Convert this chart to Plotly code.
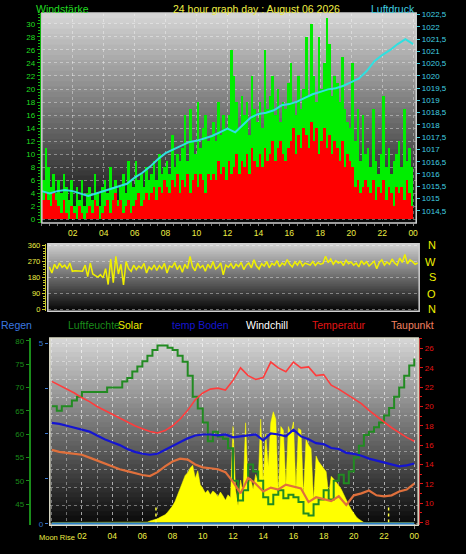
import numpy as np
import plotly.graph_objects as go

# ---------------- data ----------------
# wind (10 minute values), 00:00 .. 23:50
wind_gust = [
    6, 11, 8, 5, 7, 4,      # 00
    6, 4, 7, 5, 3, 6,       # 01
    2, 5, 3, 6, 2, 4,       # 02
    5, 3, 7, 4, 2, 5,       # 03
    6, 4, 8, 5, 6, 3,       # 04
    5, 7, 4, 9, 6, 5,       # 05
    9, 6, 7, 5, 8, 6,       # 06
    7, 9, 6, 10, 7, 8,      # 07
    9, 7, 13, 8, 10, 9,     # 08
    11, 16, 9, 17, 12, 10,  # 09
    18, 11, 14, 16, 12, 13, # 10
    15, 12, 18, 13, 16, 14, # 11
    16, 26, 22, 18, 14, 19, # 12
    16, 18, 13, 22, 17, 15, # 13
    18, 14, 26, 17, 19, 22, # 14
    16, 20, 15, 18, 17, 21, # 15
    24, 18, 16, 22, 17, 20, # 16
    28, 19, 30, 22, 18, 28, # 17
    20, 24, 31, 27, 19, 22, # 18
    21, 18, 25, 17, 15, 14, # 19
    24, 12, 17, 9, 16, 10,  # 20
    11, 8, 17, 9, 7, 10,    # 21
    19, 8, 11, 7, 9, 10,    # 22
    12, 8, 17, 9, 11, 8,    # 23
]
wind_speed = [
    3, 4, 3, 2, 4, 3,
    2, 1, 3, 1, 0, 2,
    1, 0, 2, 1, 0, 1,
    2, 1, 3, 2, 0, 1,
    2, 3, 1, 3, 4, 2,
    3, 1, 2, 3, 1, 2,
    3, 4, 2, 3, 4, 3,
    4, 5, 3, 5, 4, 6,
    5, 4, 6, 5, 7, 4,
    6, 5, 7, 4, 6, 7,
    5, 7, 6, 4, 7, 6,
    7, 6, 9, 7, 8, 6,
    9, 7, 8, 10, 7, 9,
    8, 10, 7, 11, 9, 8,
    10, 8, 11, 9, 10, 12,
    9, 11, 12, 10, 9, 11,
    12, 14, 10, 13, 11, 14,
    13, 11, 15, 12, 14, 10,
    12, 14, 11, 13, 10, 12,
    11, 9, 12, 8, 10, 9,
    8, 5, 6, 4, 5, 6,
    5, 4, 6, 3, 5, 4,
    6, 3, 5, 4, 2, 5,
    4, 5, 3, 6, 4, 2,
]
# pressure every 30 min, 00:00 .. 24:00
pressure = [
    1015.3, 1015.2, 1015.3, 1015.35, 1015.3, 1015.2, 1015.1, 1015.2, 1015.3, 1015.4,
    1015.5, 1015.6, 1015.85, 1016.05, 1016.3, 1016.6, 1016.85, 1017.0, 1017.15, 1017.3,
    1017.35, 1017.45, 1017.55, 1017.7, 1017.85, 1017.7, 1018.0, 1018.3, 1018.45, 1018.5,
    1018.6, 1018.8, 1018.85, 1018.95, 1019.1, 1019.25, 1019.35, 1019.45, 1019.5, 1019.6,
    1019.75, 1019.9, 1020.2, 1020.6, 1020.85, 1021.05, 1021.3, 1021.5, 1021.3,
]
# wind direction (degrees), 10 minute values 00:00 .. 24:00
wind_dir = [
    240, 205, 255, 230, 262, 238,
    250, 228, 262, 215, 218, 217,
    217, 216, 250, 185, 262, 200,
    190, 182, 196, 178, 230, 140,
    285, 150, 300, 200, 255, 138,
    270, 230, 215, 250, 225, 245,
    232, 260, 205, 240, 225, 252,
    220, 248, 230, 260, 205, 245,
    238, 265, 225, 250, 210, 255,
    230, 300, 240, 218, 262, 235,
    248, 215, 255, 232, 270, 228,
    240, 262, 195, 250, 238, 258,
    230, 255, 242, 265, 225, 250,
    262, 235, 280, 245, 228, 258,
    245, 270, 235, 260, 250, 275,
    240, 262, 250, 282, 255, 240,
    268, 250, 275, 245, 262, 258,
    250, 270, 248, 265, 255, 260,
    300, 265, 285, 255, 275, 262,
    270, 248, 278, 258, 268, 250,
    262, 240, 275, 255, 270, 245,
    258, 272, 230, 265, 280, 250,
    268, 255, 285, 262, 250, 290,
    265, 310, 258, 280, 270, 255,
    262,
]
# humidity (%), every 20 min 00:00 .. 24:00
humidity = [
    66, 65, 66, 66, 67.2, 68, 69, 69, 69, 69, 69, 70,
    70, 70, 71.3, 72, 73.4, 74.5, 75.6, 76.8, 78, 79, 79, 78.5,
    78, 76.8, 75.5, 72.5, 68, 65.5, 62.5, 58.5, 60.5, 59.5, 59, 57,
    50, 45.8, 48, 53.5, 52, 50, 46.5, 45, 47, 48, 46.3, 47,
    46.5, 45.5, 43, 42.6, 45, 46, 48, 46, 50, 51.3, 49.5, 52,
    55, 57.5, 59.8, 60.5, 61.5, 62.5, 64, 65.6, 68, 70, 72.5, 74.7,
    76.2,
]
# temperatures (°C), every 30 min 00:00 .. 24:00
temperature = [
    22.6, 22.2, 21.8, 21.4, 20.9, 20.5, 20.0, 19.6, 19.2, 18.8,
    18.4, 18.0, 17.7, 17.4, 17.25, 17.5, 18.0, 18.7, 19.6, 20.7,
    21.4, 21.8, 21.9, 21.7, 22.7, 24.0, 23.2, 22.8, 23.0, 24.6,
    24.0, 23.6, 24.6, 24.0, 24.1, 23.2, 23.3, 22.2, 21.8, 21.3,
    20.8, 20.3, 19.6, 19.0, 18.4, 17.8, 17.3, 16.8, 16.4,
]
soil_temp = [
    18.3, 18.2, 18.0, 17.8, 17.6, 17.4, 17.0, 16.6, 16.3, 16.0,
    15.6, 15.3, 15.1, 15.0, 15.1, 15.5, 15.9, 16.3, 16.7, 17.0,
    17.1, 17.1, 17.0, 17.1, 16.8, 16.9, 17.0, 17.1, 16.5, 17.2,
    17.1, 16.9, 17.6, 16.9, 16.6, 16.2, 16.1, 15.7, 15.6, 15.2,
    15.1, 14.9, 14.6, 14.4, 14.2, 14.0, 13.8, 13.9, 14.1,
]
dew_point = [
    15.5, 15.3, 15.2, 15.1, 15.0, 14.7, 14.4, 14.1, 13.8, 13.5,
    13.3, 13.1, 12.9, 12.8, 13.2, 13.8, 14.3, 14.6, 14.5, 14.0,
    13.7, 13.6, 13.5, 13.2, 12.2, 11.0, 12.6, 12.0, 11.2, 11.6,
    11.4, 11.9, 11.7, 11.5, 10.1, 10.6, 10.4, 10.2, 10.7, 9.8,
    10.8, 11.0, 11.3, 10.8, 10.7, 10.8, 11.2, 11.4, 12.0,
]
# solar radiation (W/m2), 10 minute values 00:00 .. 24:00
solar = [0] * 36 + [
    0, 0, 2, 8, 12, 15,            # 06
    20, 28, 35, 42, 55, 70,        # 07
    90, 115, 150, 190, 225, 255,   # 08
    270, 295, 310, 240, 280, 205,  # 09
    185, 160, 175, 150, 170, 160,  # 10
    140, 165, 145, 120, 150, 135,  # 11
    520, 180, 90, 230, 160, 540,   # 12
    200, 240, 180, 260, 220, 560,  # 13
    210, 480, 300, 540, 600, 560,  # 14
    150, 520, 500, 200, 520, 480,  # 15
    545, 180, 510, 500, 150, 450,  # 16
    420, 400, 120, 360, 330, 310,  # 17
    290, 275, 150, 250, 235, 220,  # 18
    200, 180, 150, 120, 95, 70,    # 19
    50, 30, 18, 8, 0, 0,           # 20
] + [0] * 19
rain = [0] * 25
moon_marks = [6.9, 22.3]

hour_ticks = [2, 4, 6, 8, 10, 12, 14, 16, 18, 20, 22, 24]
hour_labels = ['02', '04', '06', '08', '10', '12', '14', '16', '18', '20', '22', '00']
wind_ticks = [0, 2, 4, 6, 8, 10, 12, 14, 16, 18, 20, 22, 24, 26, 28, 30]
press_ticks = [1014.5, 1015, 1015.5, 1016, 1016.5, 1017, 1017.5, 1018, 1018.5,
               1019, 1019.5, 1020, 1020.5, 1021, 1021.5, 1022, 1022.5]
dir_ticks = [0, 90, 180, 270, 360]
compass = ['N', 'W', 'S', 'O', 'N']
hum_ticks = [45, 50, 55, 60, 65, 70, 75, 80]
rain_ticks = [0, 1.25, 2.5, 3.75, 5]
rain_labels = ['0', '', '', '', '5']
temp_ticks = [8, 10, 12, 14, 16, 18, 20, 22, 24, 26]

# time axes
t10 = np.arange(len(wind_gust)) / 6
t10b = np.arange(len(wind_dir)) / 6
t20 = np.arange(len(humidity)) / 3
t30 = np.arange(len(temperature)) / 2
t_solar = np.arange(len(solar)) / 6
t_rain = np.arange(len(rain))

W, H = 466, 554
FONT = 'Liberation Sans, Arial, sans-serif'
GRID = 'rgba(255,255,255,0.38)'


def px(x):
    return x / W


def py(y):
    return 1 - y / H


def gradient(xa, ya, top, bottom, steps=40):
    # strips overlap downwards; the next strip is drawn over the overlap, so no seams
    out = []
    for i in range(steps):
        c = int(top + (bottom - top) * (i + 0.5) / steps)
        out.append(dict(type='rect', xref=xa + ' domain', yref=ya + ' domain',
                        x0=0, x1=1, y0=max(0, 1 - (i + 1) / steps - 0.02), y1=1 - i / steps,
                        fillcolor=f'rgb({c},{c},{c})', line_width=0, layer='below'))
    return out


def frame(xa, ya, color='#d0d0d0'):
    return dict(type='rect', xref=xa + ' domain', yref=ya + ' domain',
                x0=0, x1=1, y0=0, y1=1, line=dict(color=color, width=1.5),
                layer='above')


fig = go.Figure()

# ---------------- top: wind + pressure ----------------
fig.add_trace(go.Bar(x=t10 + 1 / 12, y=wind_gust, width=1 / 6, marker_color='#00ee00',
                     marker_line_width=0, xaxis='x', yaxis='y'))
fig.add_trace(go.Bar(x=t10 + 1 / 12, y=wind_speed, width=1 / 6, marker_color='#ff0000',
                     marker_line_width=0, xaxis='x', yaxis='y'))
fig.add_trace(go.Scatter(x=t30, y=pressure, mode='lines', line=dict(color='#30e0e0', width=2),
                         xaxis='x', yaxis='y2'))

# ---------------- middle: wind direction ----------------
fig.add_trace(go.Scatter(x=t10b, y=wind_dir, mode='lines', line=dict(color='#f0f000', width=1.5),
                         xaxis='x2', yaxis='y3'))

# ---------------- bottom: climate ----------------
fig.add_trace(go.Scatter(x=t_solar, y=solar, mode='lines', fill='tozeroy',
                         fillcolor='#ffff00', line=dict(color='#ffff00', width=0.5),
                         xaxis='x3', yaxis='y4'))
for m in moon_marks:
    fig.add_trace(go.Scatter(x=[m, m], y=[0, 85], mode='lines',
                             line=dict(color='#ffff40', width=1.5, dash='dot'),
                             xaxis='x3', yaxis='y4'))
fig.add_trace(go.Scatter(x=t_rain, y=rain, mode='lines', line=dict(color='#2a80c8', width=2.5),
                         xaxis='x3', yaxis='y5'))
fig.add_trace(go.Scatter(x=t20, y=humidity, mode='lines', line=dict(color='#228b22', width=2, shape='hv'),
                         xaxis='x3', yaxis='y6'))
fig.add_trace(go.Scatter(x=t30, y=soil_temp, mode='lines', line=dict(color='#1515d0', width=2.2),
                         xaxis='x3', yaxis='y7'))
fig.add_trace(go.Scatter(x=t30, y=dew_point, mode='lines', line=dict(color='#e0703c', width=2.2),
                         xaxis='x3', yaxis='y7'))
fig.add_trace(go.Scatter(x=t30, y=temperature, mode='lines', line=dict(color='#ff3c3c', width=1.6),
                         xaxis='x3', yaxis='y7'))

tickfont = dict(family=FONT, size=8)
shapes = (gradient('x', 'y', 215, 8) + gradient('x2', 'y3', 210, 5) + gradient('x3', 'y4', 215, 8)
          + [frame('x', 'y'), frame('x2', 'y3'), frame('x3', 'y4', '#dcdcc8')])

fig.update_layout(
    width=W, height=H, margin=dict(l=0, r=0, t=0, b=0),
    paper_bgcolor='black', plot_bgcolor='black',
    showlegend=False, barmode='overlay', bargap=0,
    font=dict(family=FONT, color='white'),
    shapes=shapes,
    xaxis=dict(domain=[px(42), px(418)], range=[0, 24.2], anchor='y',
               tickvals=hour_ticks, ticktext=hour_labels,
               tickfont=dict(family=FONT, size=8.5, color='#eeee44'),
               ticks='outside', ticklen=2, tickcolor='#888888',
               showgrid=True, gridcolor=GRID, griddash='dot', zeroline=False,
               minor=dict(dtick=0.5, ticklen=2, tickcolor='#777777')),
    yaxis=dict(domain=[py(223), py(11)], range=[-0.6, 31.7], anchor='free', position=px(40),
               tickvals=wind_ticks, tickfont=dict(tickfont, color='#22dd22'),
               showline=True, linecolor='#10b010', ticks='outside', ticklen=3, tickcolor='#10b010',
               showgrid=True, gridcolor=GRID, griddash='dot', zeroline=False,
               minor=dict(dtick=0.5, ticklen=2, tickcolor='#10b010')),
    yaxis2=dict(overlaying='y', side='right', anchor='x', range=[1014.0, 1022.57],
                tickvals=press_ticks, ticktext=[f'{v:g}'.replace('.', ',') for v in press_ticks],
                tickfont=dict(tickfont, color='#40d0e0'),
                showline=True, linecolor='#40d0e0', ticks='outside', ticklen=3, tickcolor='#40d0e0',
                showgrid=False, zeroline=False),
    xaxis2=dict(domain=[px(48), px(421)], range=[-0.1, 24.1], anchor='y3',
                showticklabels=False, showgrid=False, zeroline=False),
    yaxis3=dict(domain=[py(312), py(244)], range=[-11, 371], anchor='free', position=px(45),
                tickvals=dir_ticks, tickfont=dict(family=FONT, size=7.5, color='#eeee44'),
                showline=True, linecolor='#c8c830', ticks='outside', ticklen=3, tickcolor='#c8c830',
                showgrid=True, gridcolor=GRID, griddash='dot', zeroline=False,
                minor=dict(dtick=15, ticklen=2, tickcolor='#c8c830')),
    xaxis3=dict(domain=[px(50), px(420)], range=[-0.13, 24.26], anchor='y4',
                tickvals=hour_ticks, ticktext=hour_labels,
                tickfont=dict(family=FONT, size=8.5, color='#eeee44'),
                ticks='outside', ticklen=3, tickcolor='#888888',
                showgrid=True, gridcolor=GRID, griddash='dot', zeroline=False,
                minor=dict(dtick=1, tick0=0, showgrid=True, gridcolor=GRID, griddash='dot',
                           ticklen=2, tickcolor='#777777')),
    yaxis4=dict(domain=[py(528), py(339)], range=[-15, 1000], visible=False, showgrid=False),
    yaxis5=dict(overlaying='y4', anchor='free', position=px(48), side='left',
                range=[-0.04, 5.14], tickvals=rain_ticks, ticktext=rain_labels,
                tickfont=dict(tickfont, color='#3a78d0'),
                ticks='outside', ticklen=3, tickcolor='#3a78d0', showline=False,
                showgrid=False, zeroline=False,
                minor=dict(tick0=0, dtick=0.5, showgrid=True, gridcolor=GRID, griddash='dot', ticklen=0)),
    yaxis6=dict(overlaying='y4', anchor='free', position=px(30), side='left',
                range=[40.5, 80.6], tickvals=hum_ticks, tickfont=dict(tickfont, color='#1a8c1a'),
                showline=True, linecolor='#1a8c1a', linewidth=2, ticks='outside', ticklen=3,
                tickcolor='#1a8c1a', showgrid=False, zeroline=False),
    yaxis7=dict(overlaying='y4', anchor='free', position=px(421), side='right',
                range=[7.7, 27.1], tickvals=temp_ticks, tickfont=dict(tickfont, color='#e01414'),
                showline=True, linecolor='rgba(230,70,70,0.8)', ticks='outside', ticklen=3,
                tickcolor='#e01414', showgrid=False, zeroline=False,
                minor=dict(dtick=1, ticklen=2, tickcolor='#e01414')),
)

# titles, legend row, footer
ann = [
    ('Windstärke', 35, 7, '#22dd22', 'left', 10.5),
    ('24 hour graph day : August 06 2026', 258, 7, '#eeee44', 'center', 10.5),
    ('Luftdruck', 372, 7, '#40d0e0', 'left', 10.5),
    ('Regen', 0, 326, '#3a78e0', 'left', 10.5),
    ('Luftfeuchte', 67, 326, '#1a8c1a', 'left', 10.5),
    ('Solar', 118, 326, '#f0f000', 'left', 10.5),
    ('temp Boden', 172, 326, '#1515d0', 'left', 10.5),
    ('Windchill', 246, 326, '#ffffff', 'left', 10.5),
    ('Temperatur', 312, 326, '#e01414', 'left', 10.5),
    ('Taupunkt', 392, 326, '#f08060', 'left', 10.5),
    ('Moon Rise', 38, 540, '#eeee44', 'left', 7.5),
]
for text, x, y, color, anchor, size in ann:
    fig.add_annotation(text=text, x=px(x), y=py(y), xref='paper', yref='paper',
                       xanchor=anchor, yanchor='middle', showarrow=False, borderpad=0,
                       font=dict(family=FONT, size=size, color=color))

for label, y in zip(compass, [245, 262, 278, 295, 310]):
    fig.add_annotation(text=label, x=px(439), y=py(y), xref='paper', yref='paper',
                       showarrow=False, borderpad=0,
                       font=dict(family=FONT, size=11, color='#f0f000'))

# page body has an 8px default margin; drop it so the figure sits at the window corner
fig.write_html('out.html', config={'displayModeBar': False},
               post_script="document.body.style.margin='0';")
